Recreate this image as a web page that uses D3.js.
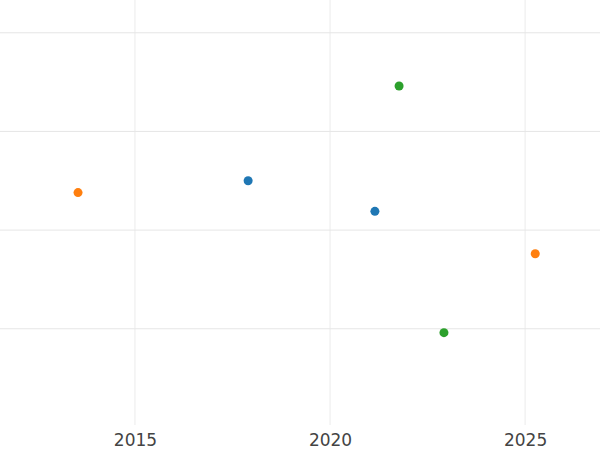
<!DOCTYPE html>
<html>
<head>
<meta charset="utf-8">
<script src="https://cdn.jsdelivr.net/npm/d3@7"></script>
<style>
  body { margin: 0; background: #fff; }
  svg { display: block; }
</style>
</head>
<body>
<svg id="chart" width="600" height="450"></svg>
<script>
const seriesNames = ['A', 'B', 'C']
const colors = ['#1f77b4', '#ff7f0e', '#2ca02c']
const xValues = [[2017.9, 2021.15], [2013.54, 2025.26], [2021.77, 2022.92]]
const yValues = [[2.5, 2.19], [2.38, 1.76], [3.46, 0.96]]
const xTicks = [2015, 2020, 2025]
const yTicks = [1, 2, 3, 4]

const width = 600
const height = 450
const svg = d3.select('#chart')

const x = d3.scaleLinear().domain([2011.54, 2026.92]).range([0, width])
const y = d3.scaleLinear().domain([0, 4.32]).range([427.4, 1.2])

// grid
svg.append('g')
  .selectAll('line')
  .data(xTicks)
  .enter()
  .append('line')
  .attr('x1', d => x(d)).attr('x2', d => x(d))
  .attr('y1', 0).attr('y2', 425)
  .attr('stroke', '#ebebeb')

svg.append('g')
  .selectAll('line')
  .data(yTicks)
  .enter()
  .append('line')
  .attr('x1', 0).attr('x2', width)
  .attr('y1', d => y(d)).attr('y2', d => y(d))
  .attr('stroke', '#e6e6e6')

// x axis labels
const xAxis = svg.append('g')
  .attr('transform', 'translate(0,426)')
  .call(d3.axisBottom(x).tickValues(xTicks).tickFormat(d3.format('d')).tickSize(0).tickPadding(8))
xAxis.select('.domain').remove()
xAxis.selectAll('text')
  .attr('fill', '#444')
  .style('font-family', 'DejaVu Sans')
  .style('font-size', '17px')

// points
seriesNames.forEach((name, i) => {
  svg.append('g')
    .selectAll('circle')
    .data(xValues[i].map((xv, j) => [xv, yValues[i][j]]))
    .enter()
    .append('circle')
    .attr('cx', d => x(d[0]))
    .attr('cy', d => y(d[1]))
    .attr('r', 4.5)
    .attr('fill', colors[i])
})
</script>
</body>
</html>
